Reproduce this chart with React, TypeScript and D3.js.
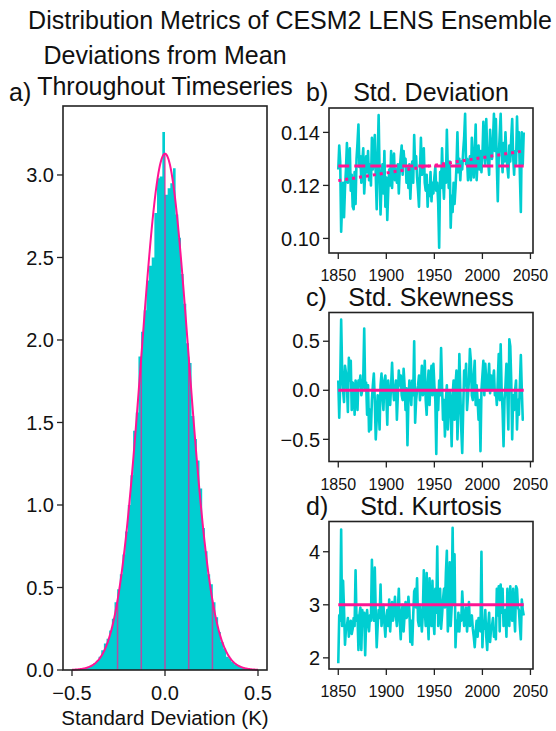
import React from "react";
import * as d3 from "d3";

// ---------------- data ----------------
const histRange = [-0.5, 0.5];
const histDensity = [
  0.002, 0.0, 0.004, 0.006, 0.008, 0.014, 0.02, 0.028, 0.04, 0.056,
  0.08, 0.12, 0.16, 0.19, 0.24, 0.31, 0.41, 0.49, 0.58, 0.7,
  0.84, 1.0, 1.18, 1.45, 1.56, 1.9, 2.05, 2.18, 2.36, 2.45,
  2.5, 2.77, 2.98, 2.99, 3.26, 2.88, 2.92, 2.95, 3.04, 2.76,
  2.62, 2.4, 2.22, 1.98, 1.86, 1.54, 1.4, 1.27, 1.1, 0.86,
  0.72, 0.58, 0.52, 0.41, 0.32, 0.23, 0.17, 0.13, 0.08, 0.07,
  0.05, 0.035, 0.03, 0.02, 0.013, 0.008, 0.005, 0.003, 0.002, 0.001,
];
const fitMean = 0.0;
const fitSigma = 0.1275;
const sigmaMultiples = [-2, -1, 0, 1, 2];

const startYear = 1850;
const stdDev = [
  0.126, 0.135, 0.129, 0.1025, 0.113, 0.121, 0.108, 0.119, 0.126, 0.136,
  0.121, 0.130, 0.134, 0.118, 0.124, 0.112, 0.111, 0.125, 0.113, 0.130,
  0.136, 0.143, 0.127, 0.131, 0.121, 0.129, 0.134, 0.117, 0.124, 0.131,
  0.125, 0.133, 0.122, 0.128, 0.120, 0.138, 0.126, 0.131, 0.139, 0.124,
  0.111, 0.130, 0.1465, 0.125, 0.109, 0.121, 0.128, 0.117, 0.133, 0.112,
  0.123, 0.107, 0.118, 0.126, 0.120, 0.133, 0.119, 0.129, 0.132, 0.122,
  0.126, 0.121, 0.128, 0.117, 0.126, 0.131, 0.135, 0.124, 0.133, 0.128,
  0.130, 0.121, 0.127, 0.119, 0.128, 0.115, 0.124, 0.129, 0.121, 0.139,
  0.127, 0.131, 0.123, 0.118, 0.112, 0.125, 0.138, 0.124, 0.129, 0.134,
  0.121, 0.118, 0.124, 0.112, 0.120, 0.116, 0.125, 0.114, 0.121, 0.117,
  0.123, 0.127, 0.118, 0.121, 0.113, 0.0965, 0.125, 0.119, 0.134, 0.122,
  0.115, 0.128, 0.121, 0.141, 0.126, 0.119, 0.129, 0.104, 0.116, 0.110,
  0.121, 0.113, 0.119, 0.127, 0.140, 0.125, 0.130, 0.122, 0.129, 0.126,
  0.133, 0.138, 0.147, 0.128, 0.130, 0.122, 0.127, 0.131, 0.122, 0.138,
  0.129, 0.123, 0.133, 0.143, 0.122, 0.129, 0.135, 0.126, 0.133, 0.125,
  0.131, 0.144, 0.134, 0.128, 0.145, 0.133, 0.129, 0.124, 0.141, 0.132,
  0.130, 0.137, 0.147, 0.133, 0.145, 0.128, 0.114, 0.131, 0.139, 0.147,
  0.132, 0.125, 0.136, 0.129, 0.140, 0.131, 0.127, 0.123, 0.135, 0.129,
  0.138, 0.145, 0.131, 0.124, 0.133, 0.128, 0.146, 0.133, 0.140, 0.124,
  0.110, 0.140, 0.128, 0.140,
];
const stdDevMean = 0.1273;
const stdDevTrend = [0.1218, 0.133];

const skewness = [
  0.10, -0.28, 0.05, 0.72, 0.22, 0.00, -0.12, 0.25, 0.18, 0.05,
  -0.22, 0.33, 0.10, 0.30, -0.20, 0.08, 0.05, -0.25, 0.10, 0.02,
  -0.20, 0.10, 0.05, 0.15, -0.05, 0.00, 0.12, 0.63, 0.00, 0.08,
  -0.25, 0.05, -0.42, -0.20, -0.40, -0.10, 0.05, 0.17, -0.10, -0.50,
  -0.30, -0.05, -0.15, -0.40, 0.05, 0.17, -0.05, -0.20, 0.10, 0.15,
  -0.05, -0.35, 0.10, -0.08, -0.15, 0.05, 0.28, 0.02, -0.10, 0.00,
  0.10, -0.30, -0.05, 0.20, 0.05, 0.15, -0.05, -0.10, 0.22, 0.05,
  -0.20, 0.02, -0.56, -0.10, 0.10, 0.00, -0.15, 0.10, -0.05, 0.50,
  -0.33, -0.10, 0.00, 0.05, 0.15, -0.10, 0.05, 0.25, -0.05, 0.00,
  0.30, -0.10, -0.25, 0.05, 0.20, -0.15, 0.10, 0.25, -0.05, 0.27,
  0.05, -0.10, -0.65, 0.00, -0.20, 0.10, -0.05, 0.43, 0.05, -0.30,
  -0.10, -0.47, -0.10, 0.05, -0.40, -0.15, 0.00, -0.20, -0.57, -0.05,
  0.10, -0.30, 0.05, 0.20, -0.50, -0.20, 0.37, 0.00, -0.40, -0.64,
  -0.20, 0.20, 0.05, 0.27, -0.20, -0.05, 0.10, 0.42, 0.30, -0.05,
  -0.10, 0.15, 0.30, -0.15, 0.05, -0.10, -0.30, -0.10, -0.62, 0.00,
  0.15, 0.30, -0.05, 0.27, 0.10, 0.00, 0.10, 0.27, -0.03, 0.15,
  0.00, 0.10, 0.20, -0.05, 0.00, -0.15, 0.10, 0.37, -0.10, 0.47,
  0.00, -0.20, -0.57, -0.10, 0.05, 0.27, -0.05, -0.40, 0.52, 0.45,
  0.10, -0.50, -0.05, -0.20, 0.00, 0.10, -0.40, -0.10, -0.25, 0.05,
  0.36, 0.00, -0.30, -0.30,
];
const skewnessRef = 0.0;

const kurtosis = [
  1.90, 2.80, 2.70, 4.42, 2.60, 3.45, 2.90, 2.25, 2.55, 2.60,
  2.75, 2.40, 2.65, 2.70, 2.45, 2.55, 2.75, 2.60, 3.65, 2.70,
  2.80, 2.15, 2.80, 2.95, 2.15, 2.90, 2.60, 2.85, 2.05, 2.70,
  2.90, 2.65, 2.50, 2.80, 2.70, 3.85, 2.90, 2.70, 3.70, 2.85,
  2.20, 2.60, 2.90, 2.75, 3.38, 2.60, 2.80, 3.00, 2.65, 2.40,
  2.75, 2.90, 2.60, 3.10, 2.50, 2.85, 3.05, 2.70, 2.90, 3.15,
  2.80, 2.60, 2.90, 3.30, 2.70, 2.35, 2.85, 3.00, 2.50, 2.80,
  3.05, 2.75, 2.80, 3.15, 2.90, 2.30, 2.70, 2.25, 2.80, 3.25,
  3.30, 2.95, 3.50, 2.70, 2.60, 3.00, 2.75, 2.50, 2.85, 3.65,
  2.90, 2.60, 3.60, 2.80, 2.35, 3.50, 2.80, 2.60, 3.45, 2.70,
  2.45, 3.30, 2.85, 4.10, 2.60, 2.90, 3.30, 2.55, 2.80, 3.10,
  3.30, 2.95, 3.60, 4.02, 2.50, 2.80, 3.80, 2.60, 2.95, 4.45,
  3.00, 3.95, 2.20, 2.70, 2.50, 2.85, 2.50, 2.80, 2.70, 3.25,
  2.90, 2.60, 2.80, 2.95, 2.50, 2.75, 3.05, 2.60, 2.75, 2.80,
  2.55, 2.40, 2.20, 2.50, 2.70, 2.40, 2.75, 2.60, 2.50, 4.00,
  2.20, 2.70, 2.55, 2.90, 2.40, 2.15, 2.60, 2.85, 2.30, 2.55,
  2.60, 2.75, 2.40, 2.55, 2.35, 3.30, 2.80, 3.35, 2.50, 3.38,
  2.85, 3.30, 2.60, 2.75, 2.90, 2.40, 3.30, 2.85, 2.60, 3.35,
  2.90, 2.70, 3.30, 2.85, 2.50, 3.35, 3.30, 2.95, 2.90, 2.60,
  2.35, 3.10, 2.90, 2.80,
];
const kurtosisRef = 3.0;

const histXTicks = [-0.5, 0, 0.5];
const histYTicks = [0, 0.5, 1, 1.5, 2, 2.5, 3];
const yearTicks = [1850, 1900, 1950, 2000, 2050];
const stdTicks = [0.1, 0.12, 0.14];
const skewTicks = [-0.5, 0, 0.5];
const kurtTicks = [2, 3, 4];

// ---------------- style ----------------
const FONT = "'Liberation Sans', Arial, Helvetica, sans-serif";
const CYAN = "#00CED1";
const PINK = "#FF1493";
const INK = "#222";

type Box = { x0: number; x1: number; y0: number; y1: number };

function YAxis({ box, scale, ticks, fmt, size = 20 }: any) {
  return (
    <g>
      {ticks.map((t: number) => {
        const y = scale(t);
        return (
          <g key={t}>
            <line x1={box.x0 - 6} x2={box.x0} y1={y} y2={y} stroke={INK} strokeWidth={1.3} />
            <text x={box.x0 - 9} y={y + size * 0.36} textAnchor="end" fontSize={size} fill="#111" fontFamily={FONT}>
              {fmt(t)}
            </text>
          </g>
        );
      })}
    </g>
  );
}

function XAxis({ box, scale, ticks, fmt, size, offset }: any) {
  return (
    <g>
      {ticks.map((t: number) => {
        const x = scale(t);
        return (
          <g key={t}>
            <line x1={x} x2={x} y1={box.y1} y2={box.y1 + 6} stroke={INK} strokeWidth={1.3} />
            <text x={x} y={box.y1 + offset} textAnchor="middle" fontSize={size} fill="#111" fontFamily={FONT}>
              {fmt(t)}
            </text>
          </g>
        );
      })}
    </g>
  );
}

function Frame({ box }: { box: Box }) {
  return (
    <rect x={box.x0} y={box.y0} width={box.x1 - box.x0} height={box.y1 - box.y0} fill="none" stroke={INK} strokeWidth={1.6} />
  );
}

function SeriesPanel({ box, values, yDomain, yTicks, yFmt, label, title, refLines }: any) {
  const n = values.length;
  const firstYear = startYear;
  const lastYear = startYear + n - 1;
  const pad = (lastYear - firstYear) * 0.05;
  const x = d3.scaleLinear().domain([firstYear - pad, lastYear + pad]).range([box.x0, box.x1]);
  const y = d3.scaleLinear().domain(yDomain).range([box.y1, box.y0]);
  const line = d3
    .line<number>()
    .x((_, i) => x(firstYear + i))
    .y((v) => y(v));
  const id = "clip" + label.replace(/\W/g, "");
  return (
    <g>
      <defs>
        <clipPath id={id}>
          <rect x={box.x0} y={box.y0} width={box.x1 - box.x0} height={box.y1 - box.y0} />
        </clipPath>
      </defs>
      <g clipPath={`url(#${id})`}>
        <path d={line(values) || ""} fill="none" stroke={CYAN} strokeWidth={2.6} strokeLinejoin="round" />
        {refLines.map((r: any, i: number) => (
          <line
            key={i}
            x1={x(firstYear)}
            x2={x(lastYear)}
            y1={y(r.from)}
            y2={y(r.to)}
            stroke={PINK}
            strokeWidth={3}
            strokeDasharray={r.dash}
          />
        ))}
      </g>
      <Frame box={box} />
      <YAxis box={box} scale={y} ticks={yTicks} fmt={yFmt} />
      <XAxis box={box} scale={x} ticks={yearTicks} fmt={d3.format("d")} size={16} offset={28} />
      <text x={box.x0 - 23} y={box.y0 - 7} fontSize={25} fontFamily={FONT} fill="#111">
        {label}
      </text>
      <text x={(box.x0 + box.x1) / 2} y={box.y0 - 7} textAnchor="middle" fontSize={25} fontFamily={FONT} fill="#111">
        {title}
      </text>
    </g>
  );
}

export default function App() {
  const A: Box = { x0: 63, x1: 267, y0: 106, y1: 670 };
  const B: Box = { x0: 329, x1: 533, y0: 108, y1: 253 };
  const C: Box = { x0: 329, x1: 533, y0: 312.5, y1: 461.5 };
  const D: Box = { x0: 329, x1: 533, y0: 521.5, y1: 669 };

  const hx = d3.scaleLinear().domain([-0.5484, 0.5484]).range([A.x0, A.x1]);
  const hy = d3.scaleLinear().domain([0, 3.418]).range([A.y1, A.y0]);
  const nb = histDensity.length;
  const bw = (histRange[1] - histRange[0]) / nb;
  const pdf = (v: number) =>
    Math.exp(-((v - fitMean) ** 2) / (2 * fitSigma * fitSigma)) / (fitSigma * Math.sqrt(2 * Math.PI));
  const curvePts = d3.range(0, 401).map((i) => histRange[0] + (i / 400) * (histRange[1] - histRange[0]));
  const curve = d3
    .line<number>()
    .x((v) => hx(v))
    .y((v) => hy(pdf(v)))
    .curve(d3.curveLinear);

  // histogram as one stepped area (edges + heights)
  const stepPts: [number, number][] = histDensity.map((v, i) => [histRange[0] + i * bw, v]);
  stepPts.push([histRange[1], histDensity[nb - 1]]);
  const histArea = d3
    .area<[number, number]>()
    .x((d) => hx(d[0]))
    .y0(hy(0))
    .y1((d) => hy(d[1]))
    .curve(d3.curveStepAfter);

  return (
    <svg width={556} height={731} style={{ position: "absolute", left: 0, top: 0, background: "#fff" }}>
      <rect x={0} y={0} width={556} height={731} fill="#fff" />
      <text x={290} y={29} textAnchor="middle" fontSize={25} fontFamily={FONT} fill="#111">
        Distribution Metrics of CESM2 LENS Ensemble
      </text>

      {/* Panel a */}
      <g>
        <path d={histArea(stepPts) || ""} fill={CYAN} stroke="none" />
        {sigmaMultiples.map((m) => {
          const v = fitMean + m * fitSigma;
          return (
            <line key={m} x1={hx(v)} x2={hx(v)} y1={hy(0)} y2={hy(pdf(v))} stroke={PINK} strokeOpacity={0.7} strokeWidth={1.5} />
          );
        })}
        <path d={curve(curvePts) || ""} fill="none" stroke={PINK} strokeWidth={2} />
        <Frame box={A} />
        <YAxis box={A} scale={hy} ticks={histYTicks} fmt={d3.format(".1f")} />
        <XAxis box={A} scale={hx} ticks={histXTicks} fmt={d3.format(".1f")} size={20} offset={30} />
        <text x={(A.x0 + A.x1) / 2} y={725} textAnchor="middle" fontSize={20.5} fontFamily={FONT} fill="#111">
          Standard Deviation (K)
        </text>
        <text x={(A.x0 + A.x1) / 2} y={64} textAnchor="middle" fontSize={25} fontFamily={FONT} fill="#111">
          Deviations from Mean
        </text>
        <text x={(A.x0 + A.x1) / 2} y={95} textAnchor="middle" fontSize={25} fontFamily={FONT} fill="#111">
          Throughout Timeseries
        </text>
        <text x={9} y={101} fontSize={25} fontFamily={FONT} fill="#111">
          a)
        </text>
      </g>

      <SeriesPanel
        box={B}
        values={stdDev}
        yDomain={[0.0945, 0.1492]}
        yTicks={stdTicks}
        yFmt={d3.format(".2f")}
        label="b)"
        title="Std. Deviation"
        refLines={[
          { from: stdDevMean, to: stdDevMean, dash: "11,5" },
          { from: stdDevTrend[0], to: stdDevTrend[1], dash: "3,4" },
        ]}
      />
      <SeriesPanel
        box={C}
        values={skewness}
        yDomain={[-0.726, 0.793]}
        yTicks={skewTicks}
        yFmt={d3.format(".1f")}
        label="c)"
        title="Std. Skewness"
        refLines={[{ from: skewnessRef, to: skewnessRef, dash: null }]}
      />
      <SeriesPanel
        box={D}
        values={kurtosis}
        yDomain={[1.79, 4.57]}
        yTicks={kurtTicks}
        yFmt={d3.format("d")}
        label="d)"
        title="Std. Kurtosis"
        refLines={[{ from: kurtosisRef, to: kurtosisRef, dash: null }]}
      />
    </svg>
  );
}
